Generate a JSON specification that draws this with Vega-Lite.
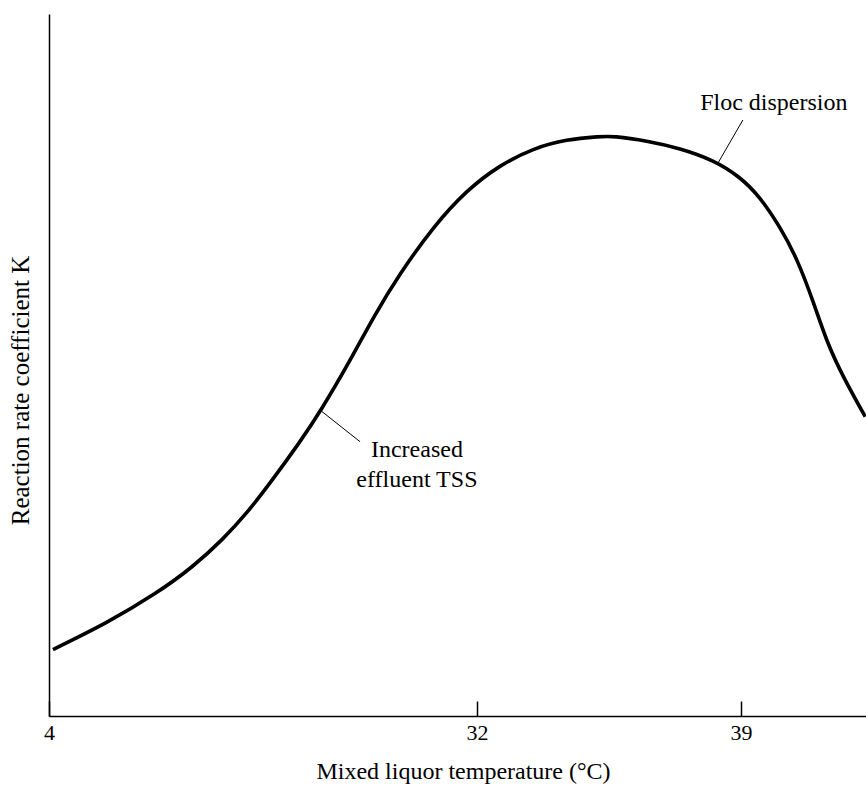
{
  "$schema": "https://vega.github.io/schema/vega-lite/v6.json",
  "width": 817,
  "height": 702,
  "autosize": {"type": "none"},
  "padding": {"left": 49, "top": 14, "right": 0, "bottom": 70},
  "background": "white",
  "config": {"view": {"stroke": null}, "font": "Liberation Serif"},
  "datasets": {
    "curve": [
      {"temperature": 4.26, "k": 9.47},
      {"temperature": 7.77, "k": 13.21},
      {"temperature": 11.05, "k": 17.48},
      {"temperature": 13.44, "k": 21.27},
      {"temperature": 15.40, "k": 25.21},
      {"temperature": 16.93, "k": 28.85},
      {"temperature": 18.46, "k": 33.15},
      {"temperature": 20.42, "k": 39.03},
      {"temperature": 21.73, "k": 43.30},
      {"temperature": 23.69, "k": 50.57},
      {"temperature": 25.22, "k": 56.84},
      {"temperature": 26.96, "k": 63.06},
      {"temperature": 29.14, "k": 69.70},
      {"temperature": 31.33, "k": 74.93},
      {"temperature": 32.61, "k": 78.49},
      {"temperature": 33.49, "k": 80.87},
      {"temperature": 34.38, "k": 82.15},
      {"temperature": 35.26, "k": 82.55},
      {"temperature": 35.61, "k": 82.62},
      {"temperature": 36.50, "k": 81.95},
      {"temperature": 37.38, "k": 80.87},
      {"temperature": 38.27, "k": 79.20},
      {"temperature": 38.97, "k": 76.82},
      {"temperature": 39.50, "k": 73.97},
      {"temperature": 40.03, "k": 69.70},
      {"temperature": 40.48, "k": 65.24},
      {"temperature": 40.92, "k": 58.97},
      {"temperature": 41.27, "k": 53.28},
      {"temperature": 41.71, "k": 48.22},
      {"temperature": 42.29, "k": 42.64}
    ],
    "leaders": [
      {"label": "Floc dispersion", "temperature": 39.05, "k": 84.90},
      {"label": "Floc dispersion", "temperature": 38.39, "k": 78.77},
      {"label": "Increased effluent TSS", "temperature": 21.84, "k": 43.40},
      {"label": "Increased effluent TSS", "temperature": 24.35, "k": 39.07}
    ],
    "labels": [
      {"text": "Floc dispersion", "temperature": 39.87, "k": 86.32},
      {"text": "Increased", "temperature": 28.07, "k": 36.89},
      {"text": "effluent TSS", "temperature": 28.07, "k": 32.66}
    ]
  },
  "layer": [
    {
      "data": {"name": "curve"},
      "mark": {"type": "line", "interpolate": "basis", "color": "black", "strokeWidth": 3.6},
      "encoding": {
        "x": {
          "field": "temperature",
          "type": "quantitative",
          "scale": {"domain": [4, 32, 39, 42.31], "range": [0, 428, 692, 817], "nice": false, "zero": false},
          "axis": {
            "values": [4, 32, 39],
            "title": "Mixed liquor temperature (°C)",
            "titleFont": "Liberation Serif",
            "titleFontSize": 24,
            "titleFontWeight": "normal",
            "titleColor": "black",
            "titleX": 414,
            "titleY": 62,
            "titleBaseline": "alphabetic",
            "titleAlign": "center",
            "labelFont": "Liberation Serif",
            "labelFontSize": 22,
            "labelColor": "black",
            "labelFlush": false,
            "labelOverlap": false,
            "labelBound": false,
            "labelPadding": 21,
            "labelBaseline": "top",
            "ticks": true,
            "tickSize": -15,
            "tickColor": "black",
            "tickWidth": 1.5,
            "domainColor": "black",
            "domainWidth": 1.5,
            "grid": false
          }
        },
        "y": {
          "field": "k",
          "type": "quantitative",
          "scale": {"domain": [0, 100], "nice": false, "zero": false},
          "axis": {
            "title": "Reaction rate coefficient K",
            "titleFont": "Liberation Serif",
            "titleFontSize": 25,
            "titleFontWeight": "normal",
            "titleColor": "black",
            "titleAngle": -90,
            "titleX": -29,
            "titleY": 376,
            "titleAlign": "center",
            "titleBaseline": "middle",
            "labels": false,
            "ticks": false,
            "grid": false,
            "domainColor": "black",
            "domainWidth": 1.5
          }
        }
      }
    },
    {
      "data": {"name": "leaders"},
      "mark": {"type": "line", "color": "black", "strokeWidth": 1},
      "encoding": {
        "x": {"field": "temperature", "type": "quantitative"},
        "y": {"field": "k", "type": "quantitative"},
        "detail": {"field": "label"}
      }
    },
    {
      "data": {"name": "labels"},
      "mark": {"type": "text", "fontSize": 24, "align": "center", "baseline": "alphabetic", "font": "Liberation Serif", "color": "black"},
      "encoding": {
        "x": {"field": "temperature", "type": "quantitative"},
        "y": {"field": "k", "type": "quantitative"},
        "text": {"field": "text"}
      }
    }
  ]
}
